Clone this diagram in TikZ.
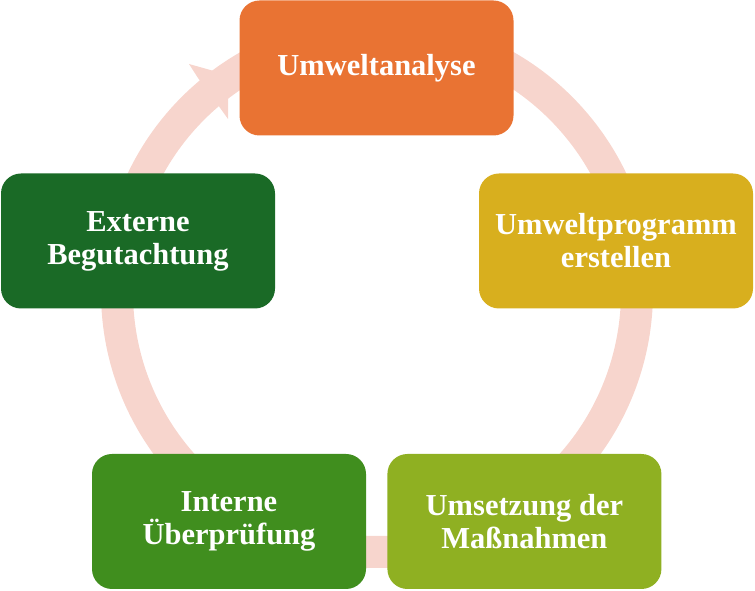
\documentclass[tikz,border=0pt]{standalone}
\usepackage{fontspec}
\setmainfont{Liberation Serif}
\usetikzlibrary{positioning}

\definecolor{boxorange}{RGB}{233,115,51}
\definecolor{boxgold}{RGB}{216,175,30}
\definecolor{boxolive}{RGB}{143,176,34}
\definecolor{boxgreen}{RGB}{64,142,30}
\definecolor{boxdarkgreen}{RGB}{26,106,38}
\definecolor{ringpink}{RGB}{247,213,205}

\begin{document}
\begin{tikzpicture}[
    x=1pt, y=1pt,
    every node/.style={align=center},
    block_orange/.style={
        rectangle,
        fill=boxorange,
        text=white,
        minimum width=274pt,
        minimum height=135pt,
        rounded corners=20pt,
        font=\fontsize{30.5}{33}\selectfont\bfseries
    },
    block_gold/.style={
        rectangle,
        fill=boxgold,
        text=white,
        minimum width=274pt,
        minimum height=135pt,
        rounded corners=20pt,
        font=\fontsize{30.5}{33}\selectfont\bfseries
    },
    block_olive/.style={
        rectangle,
        fill=boxolive,
        text=white,
        minimum width=274pt,
        minimum height=135pt,
        rounded corners=20pt,
        font=\fontsize{30.5}{33}\selectfont\bfseries
    },
    block_green/.style={
        rectangle,
        fill=boxgreen,
        text=white,
        minimum width=274pt,
        minimum height=135pt,
        rounded corners=20pt,
        font=\fontsize{30.5}{33}\selectfont\bfseries
    },
    block_darkgreen/.style={
        rectangle,
        fill=boxdarkgreen,
        text=white,
        minimum width=274pt,
        minimum height=135pt,
        rounded corners=20pt,
        font=\fontsize{30.5}{33}\selectfont\bfseries
    },
    ring/.style = {draw=ringpink, line width=32pt}
]
    \useasboundingbox (0,0) rectangle (755,591);
    % Kreispfeil im Hintergrund
    \coordinate (mitte) at (377,299);
    \draw [ring] (mitte) ++(130:260) arc[start angle=130, end angle=-275, radius=260];
    \fill [ringpink] (198,513) -- (189,527) -- (228,516) -- (228,472) -- (218,486) -- cycle;
    % Knoten
    \node [block_orange] (analyse) at (376.5,523) {Umweltanalyse};
    \node [block_gold] (programm) at (616,350) {Umweltprogramm\\erstellen};
    \node [block_green] (pruefung) at (229,69.5) {Interne\\Überprüfung};
    \node [block_olive, right=21pt of pruefung] (umsetzung) {Umsetzung der\\Maßnahmen};
    \node [block_darkgreen] (begutachtung) at (138,350) {Externe\\Begutachtung};
\end{tikzpicture}
\end{document}
